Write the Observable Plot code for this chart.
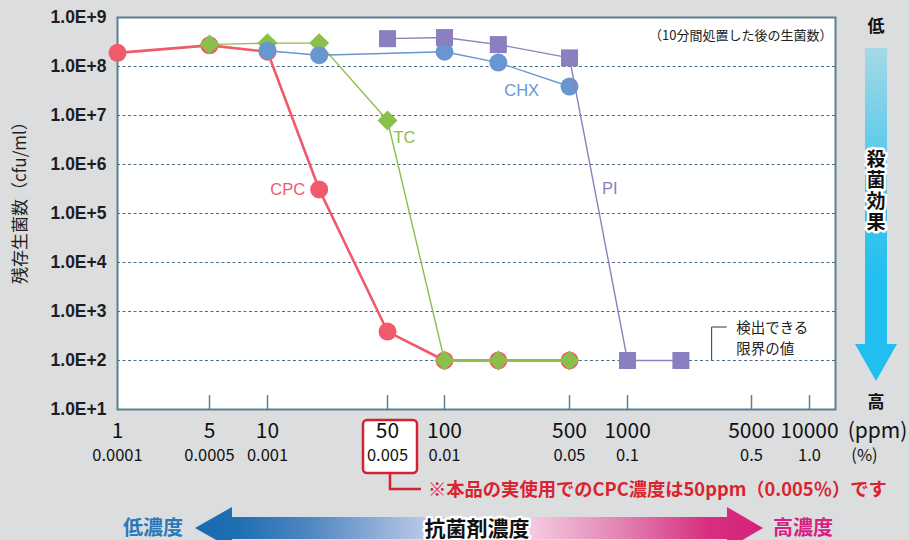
<!DOCTYPE html>
<html><head><meta charset="utf-8">
<script src="https://cdn.jsdelivr.net/npm/d3@7"></script>
<script src="https://cdn.jsdelivr.net/npm/@observablehq/plot@0.6"></script>
<style>body{margin:0;background:#dcdddf;} svg{display:block;}</style>
</head><body><div id="chart"></div>
<script>
// ---- data ----
const seriesNames = ["CPC", "TC", "CHX", "PI"];
const cpcConc = [1, 5, 10, 20, 50, 100, 200, 500];
const cpcValues = [1.9e8, 2.7e8, 2.0e8, 3.1e5, 3.9e2, 1e2, 1e2, 1e2];
const tcConc = [5, 10, 20, 50, 100, 200, 500];
const tcValues = [2.8e8, 3.0e8, 3.0e8, 7.9e6, 1e2, 1e2, 1e2];
const chxConc = [10, 20, 100, 200, 500];
const chxValues = [2.1e8, 1.7e8, 2.0e8, 1.2e8, 3.9e7];
const piConc = [50, 100, 200, 500, 1000, 2000];
const piValues = [3.7e8, 3.9e8, 2.8e8, 1.5e8, 1e2, 1e2];
const xTicksPpm = [1, 5, 10, 50, 100, 500, 1000, 5000, 10000];
const xTickLabelsPpm = ["1", "5", "10", "50", "100", "500", "1000", "5000", "10000"];
const xTickLabelsPct = ["0.0001", "0.0005", "0.001", "0.005", "0.01", "0.05", "0.1", "0.5", "1.0"];
const yTicks = [1e1, 1e2, 1e3, 1e4, 1e5, 1e6, 1e7, 1e8, 1e9];
const yTickLabels = ["1.0E+1", "1.0E+2", "1.0E+3", "1.0E+4", "1.0E+5", "1.0E+6", "1.0E+7", "1.0E+8", "1.0E+9"];

const rows = (name, xs, vs) => xs.map((c, i) => ({series: name, conc: c, value: vs[i]}));
const cpc = rows("CPC", cpcConc, cpcValues);
const tc = rows("TC", tcConc, tcValues);
const chx = rows("CHX", chxConc, chxValues);
const pi = rows("PI", piConc, piValues);

const col = {CPC: "#f05a6a", TC: "#8bbf4b", CHX: "#6896d0", PI: "#8a80c0"};
const jp = "'Noto Sans CJK JP', 'Noto Sans', sans-serif";
const lat = "'Liberation Sans', Arial, sans-serif";

const plot = Plot.plot({
  width: 909, height: 540,
  marginLeft: 117, marginRight: 74, marginTop: 17, marginBottom: 131,
  style: {background: "#dcdddf", fontFamily: jp, overflow: "visible"},
  x: {type: "log", domain: xTicksPpm, range: [117, 209, 267, 387, 444, 569, 627, 751, 809], axis: null},
  y: {type: "log", domain: [10, 1e9], axis: null},
  marks: [
    Plot.frame({fill: "white", stroke: null}),
    Plot.gridY(yTicks.slice(1, -1), {stroke: "#4e6e88", strokeOpacity: 1, strokeDasharray: "3,2.5", strokeWidth: 1}),
    Plot.axisX(xTicksPpm.slice(1), {tickSize: -14, tickFormat: () => "", label: null, stroke: "#5b8090", strokeWidth: 1.5}),
    Plot.frame({stroke: "#5b7f8f", strokeWidth: 2}),
    // y tick labels
    Plot.text(yTicks, {y: d => d, text: (d, i) => yTickLabels[i], frameAnchor: "left", textAnchor: "end", dx: -11,
      fontSize: 17.5, fontWeight: "bold", fontFamily: lat, fill: "#1e1e1e"}),
    // x tick labels
    Plot.text(xTicksPpm, {x: d => d, text: (d, i) => xTickLabelsPpm[i], frameAnchor: "bottom", dy: 28, fontSize: 21, fill: "#111"}),
    Plot.text(xTicksPpm, {x: d => d, text: (d, i) => xTickLabelsPct[i], frameAnchor: "bottom", dy: 51, fontSize: 16.5, fill: "#111"}),
    Plot.text(["(ppm)"], {frameAnchor: "bottom-right", dx: 42, dy: 28, textAnchor: "middle", fontSize: 21, fill: "#111"}),
    Plot.text(["(%)"], {frameAnchor: "bottom-right", dx: 29, dy: 51, textAnchor: "middle", fontSize: 16.5, fill: "#111"}),
    // y label
    Plot.text(["残存生菌数（cfu/ml）"], {frameAnchor: "left", dx: -97, dy: -15, textAnchor: "middle", rotate: -90, fontSize: 17, fill: "#1e1e1e"}),
    // note
    Plot.text(["（10分間処置した後の生菌数）"], {frameAnchor: "top-right", dx: -3, dy: 13, textAnchor: "end", fontSize: 13, fill: "#222"}),
    Plot.text(["検出できる\n限界の値"], {x: 3000, y: 100, dx: 24, dy: -24, textAnchor: "start", lineHeight: 1.45, fontSize: 14.5, fill: "#222"}),
    // series
    Plot.line(cpc, {x: "conc", y: "value", stroke: col.CPC, strokeWidth: 2.6}),
    Plot.dot(cpc, {x: "conc", y: "value", r: 9, fill: col.CPC}),
    Plot.line(tc, {x: "conc", y: "value", stroke: col.TC, strokeWidth: 1.4}),
    Plot.dot(tc, {x: "conc", y: "value", r: 9, symbol: "diamond2", fill: col.TC}),
    Plot.line(chx, {x: "conc", y: "value", stroke: col.CHX, strokeWidth: 1.4}),
    Plot.dot(chx, {x: "conc", y: "value", r: 9, fill: col.CHX}),
    Plot.line(pi, {x: "conc", y: "value", stroke: col.PI, strokeWidth: 1.4}),
    Plot.dot(pi, {x: "conc", y: "value", r: 9.6, symbol: "square", fill: col.PI}),
    // series labels
    Plot.text([seriesNames[0]], {x: 20, y: 3.1e5, dx: -14, textAnchor: "end", fontSize: 16.5, fontFamily: lat, fill: col.CPC}),
    Plot.text([seriesNames[1]], {x: 50, y: 7.9e6, dx: 6, dy: 17, textAnchor: "start", fontSize: 16.5, fontFamily: lat, fill: col.TC}),
    Plot.text([seriesNames[2]], {x: 270, y: 3.2e7, fontSize: 16.5, fontFamily: lat, fill: col.CHX}),
    Plot.text([seriesNames[3]], {x: 810, y: 3.2e5, fontSize: 16.5, fontFamily: lat, fill: col.PI})
  ]
});
document.getElementById("chart").appendChild(plot);

// ---- decorations ----
const svg = d3.select(plot);
const xs = plot.scale("x"), ys = plot.scale("y");
const defs = svg.append("defs");

// red box around 50 ppm label
const x50 = xs.apply(50);
const deco = svg.append("g");
deco.append("rect").attr("x", x50 - 24).attr("y", 420).attr("width", 54).attr("height", 53)
  .attr("rx", 4).attr("fill", "white").attr("stroke", "#d42130").attr("stroke-width", 2.5);
deco.append("path").attr("d", `M${x50 + 3},473 V489 H421`).attr("fill", "none").attr("stroke", "#d42130").attr("stroke-width", 2.5);
deco.append("text").attr("x", 428).attr("y", 489).attr("dy", "0.36em").attr("text-anchor", "start").attr("font-family", jp)
  .attr("font-size", 18.3).attr("font-weight", "bold").attr("fill", "#d9242f")
  .text("※本品の実使用でのCPC濃度は50ppm（0.005％）です");

// detection limit connector
const xd = xs.apply(3000), yd = ys.apply(100);
deco.append("path").attr("d", `M${xd},${yd} V${yd - 33} H${xd + 15}`).attr("fill", "none").attr("stroke", "#333").attr("stroke-width", 1);

// bring text marks on top
svg.selectAll("g[aria-label='text']").raise();

// right vertical arrow
const vg = defs.append("linearGradient").attr("id", "vgrad").attr("x1", 0).attr("y1", 0).attr("x2", 0).attr("y2", 1);
vg.append("stop").attr("offset", 0).attr("stop-color", "#a6d9e6");
vg.append("stop").attr("offset", 0.45).attr("stop-color", "#48c6ec");
vg.append("stop").attr("offset", 0.8).attr("stop-color", "#20bff0");
svg.append("rect").attr("x", 865).attr("y", 48).attr("width", 22).attr("height", 297).attr("fill", "url(#vgrad)");
svg.append("path").attr("d", "M855,344 H897 L876,381 Z").attr("fill", "#20bff0");
svg.append("text").attr("x", 876).attr("y", 26).attr("dy", "0.36em").attr("text-anchor", "middle")
  .attr("font-family", jp).attr("font-size", 17).attr("font-weight", "bold").attr("fill", "#111").text("低");
svg.append("text").attr("x", 876).attr("y", 402).attr("dy", "0.36em").attr("text-anchor", "middle")
  .attr("font-family", jp).attr("font-size", 17).attr("font-weight", "bold").attr("fill", "#111").text("高");
svg.append("text").attr("x", 876).attr("y", 191).attr("text-anchor", "middle")
  .style("writing-mode", "vertical-rl").attr("letter-spacing", 2)
  .attr("font-family", jp).attr("font-size", 19).attr("font-weight", "bold").attr("fill", "#111")
  .attr("stroke", "white").attr("stroke-width", 5).attr("stroke-linejoin", "round").attr("paint-order", "stroke")
  .text("殺菌効果");

// bottom horizontal arrow
const hg = defs.append("linearGradient").attr("id", "hgrad").attr("gradientUnits", "userSpaceOnUse")
  .attr("x1", 195).attr("y1", 0).attr("x2", 763).attr("y2", 0);
[[0, "#1a6bb0"], [0.07, "#1d6eb2"], [0.2, "#4f86c1"], [0.4, "#b8c6e4"], [0.5, "#efdbe8"], [0.59, "#f4cbdf"],
 [0.75, "#e283b3"], [0.9, "#d7307f"], [1, "#d4207a"]].forEach(([o, c]) =>
  hg.append("stop").attr("offset", o).attr("stop-color", c));
svg.append("path").attr("d", "M195,528 L232,507 L232,517 L727,517 L727,507 L763,528 L727,549 L727,539 L232,539 L232,549 Z")
  .attr("fill", "url(#hgrad)");
svg.append("text").attr("x", 153).attr("y", 528).attr("dy", "0.36em").attr("text-anchor", "middle")
  .attr("font-family", jp).attr("font-size", 20).attr("font-weight", "bold").attr("fill", "#2b78b9").text("低濃度");
svg.append("text").attr("x", 803).attr("y", 528).attr("dy", "0.36em").attr("text-anchor", "middle")
  .attr("font-family", jp).attr("font-size", 20).attr("font-weight", "bold").attr("fill", "#d6227f").text("高濃度");
svg.append("text").attr("x", 477).attr("y", 528).attr("dy", "0.36em").attr("text-anchor", "middle")
  .attr("font-family", jp).attr("font-size", 21).attr("font-weight", "bold").attr("fill", "#111")
  .attr("stroke", "white").attr("stroke-width", 5).attr("stroke-linejoin", "round").attr("paint-order", "stroke")
  .text("抗菌剤濃度");
</script></body></html>
